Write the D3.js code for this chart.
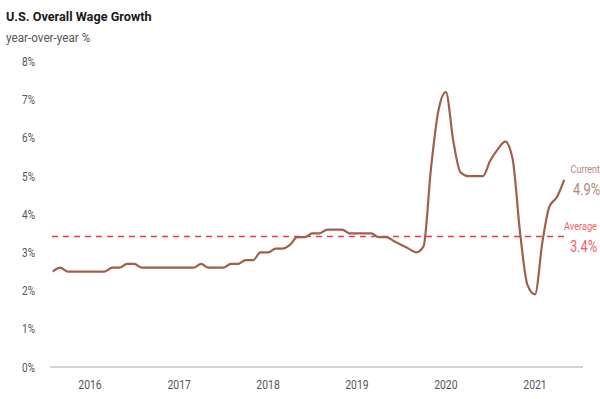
<!DOCTYPE html>
<html>
<head>
<meta charset="utf-8">
<script src="https://cdn.jsdelivr.net/npm/d3@7"></script>
<style>
  body { margin: 0; background: #fff; }
  svg text { font-family: Roboto, "Liberation Sans", sans-serif; }
</style>
</head>
<body>
<div id="chart"></div>
<script>
// monthly series, Aug 2015 .. May 2021
var startMonth = new Date(2015, 7, 1);
var wageGrowth = [
  2.5, 2.6, 2.5, 2.5, 2.5,                                  // 2015 Aug-Dec
  2.5, 2.5, 2.5, 2.6, 2.6, 2.7, 2.7, 2.6, 2.6, 2.6, 2.6, 2.6, // 2016
  2.6, 2.6, 2.6, 2.7, 2.6, 2.6, 2.6, 2.7, 2.7, 2.8, 2.8, 3.0, // 2017
  3.0, 3.1, 3.1, 3.2, 3.4, 3.4, 3.5, 3.5, 3.6, 3.6, 3.6, 3.5, // 2018
  3.5, 3.5, 3.5, 3.4, 3.4, 3.3, 3.2, 3.1, 3.0, 3.15, 5.2, 6.7, // 2019
  7.2, 5.9, 5.1, 5.0, 5.0, 5.0, 5.4, 5.7, 5.9, 5.45, 3.5, 2.15, // 2020
  1.9, 3.3, 4.2, 4.45, 4.9                                  // 2021 Jan-May
];
var average = 3.4;
var current = 4.9;
var yTicks = [0, 1, 2, 3, 4, 5, 6, 7, 8];
var yearLabels = [2016, 2017, 2018, 2019, 2020, 2021];

var W = 600, H = 399;
var svg = d3.select("#chart").append("svg")
    .attr("width", W)
    .attr("height", H);

var data = wageGrowth.map(function(v, i) {
    return { date: d3.timeMonth.offset(startMonth, i), value: v };
});

var x = d3.scaleTime()
    .domain([new Date(2016, 0, 1), new Date(2021, 0, 1)])
    .range([90, 535]);
var y = d3.scaleLinear()
    .domain([0, 8])
    .range([367, 61.5]);

// text squeezed horizontally to fake a condensed face
function label(px, py, str, size, color, anchor, sx, weight) {
    return svg.append("text")
        .attr("transform", "translate(" + px + "," + py + ") scale(" + (sx || 0.8) + ",1)")
        .attr("text-anchor", anchor || "start")
        .attr("font-size", size + "px")
        .attr("font-weight", weight || "normal")
        .attr("fill", color)
        .text(str);
}

// title
label(6, 20.5, "U.S. Overall Wage Growth", 13.5, "#1a1a1a", "start", 0.94, "bold");
label(6, 42, "year-over-year %", 13, "#555", "start", 0.9);

// y labels
yTicks.forEach(function(d) {
    label(35, y(d) + 4.5, d + "%", 12.5, "#555", "end");
});

// baseline
svg.append("line")
    .attr("x1", 50).attr("x2", 583)
    .attr("y1", y(0)).attr("y2", y(0))
    .attr("stroke", "#aaa").attr("stroke-width", 1);

// year labels
yearLabels.forEach(function(d) {
    label(x(new Date(d, 0, 1)), 388.5, d, 13, "#555", "middle");
});

// average line
svg.append("line")
    .attr("x1", 52).attr("x2", 564)
    .attr("y1", Math.round(y(average)) - 0.5).attr("y2", Math.round(y(average)) - 0.5)
    .attr("stroke", "#e63c46").attr("stroke-width", 1.5)
    .attr("stroke-dasharray", "6,5");

// wage line
var line = d3.line()
    .x(function(d) { return x(d.date); })
    .y(function(d) { return y(d.value); })
    .curve(d3.curveMonotoneX);
svg.append("path")
    .datum(data)
    .attr("d", line)
    .attr("fill", "none")
    .attr("stroke", "#a05f4b")
    .attr("stroke-width", 2.2);

// annotations
label(600, 173, "Current", 11.5, "#b08878", "end", 0.78);
label(600, 195, current.toFixed(1) + "%", 16, "#b08878", "end");
label(597, 230, "Average", 11.5, "#f0606a", "end");
label(597, 252, average.toFixed(1) + "%", 16, "#f0606a", "end");
</script>
</body>
</html>
